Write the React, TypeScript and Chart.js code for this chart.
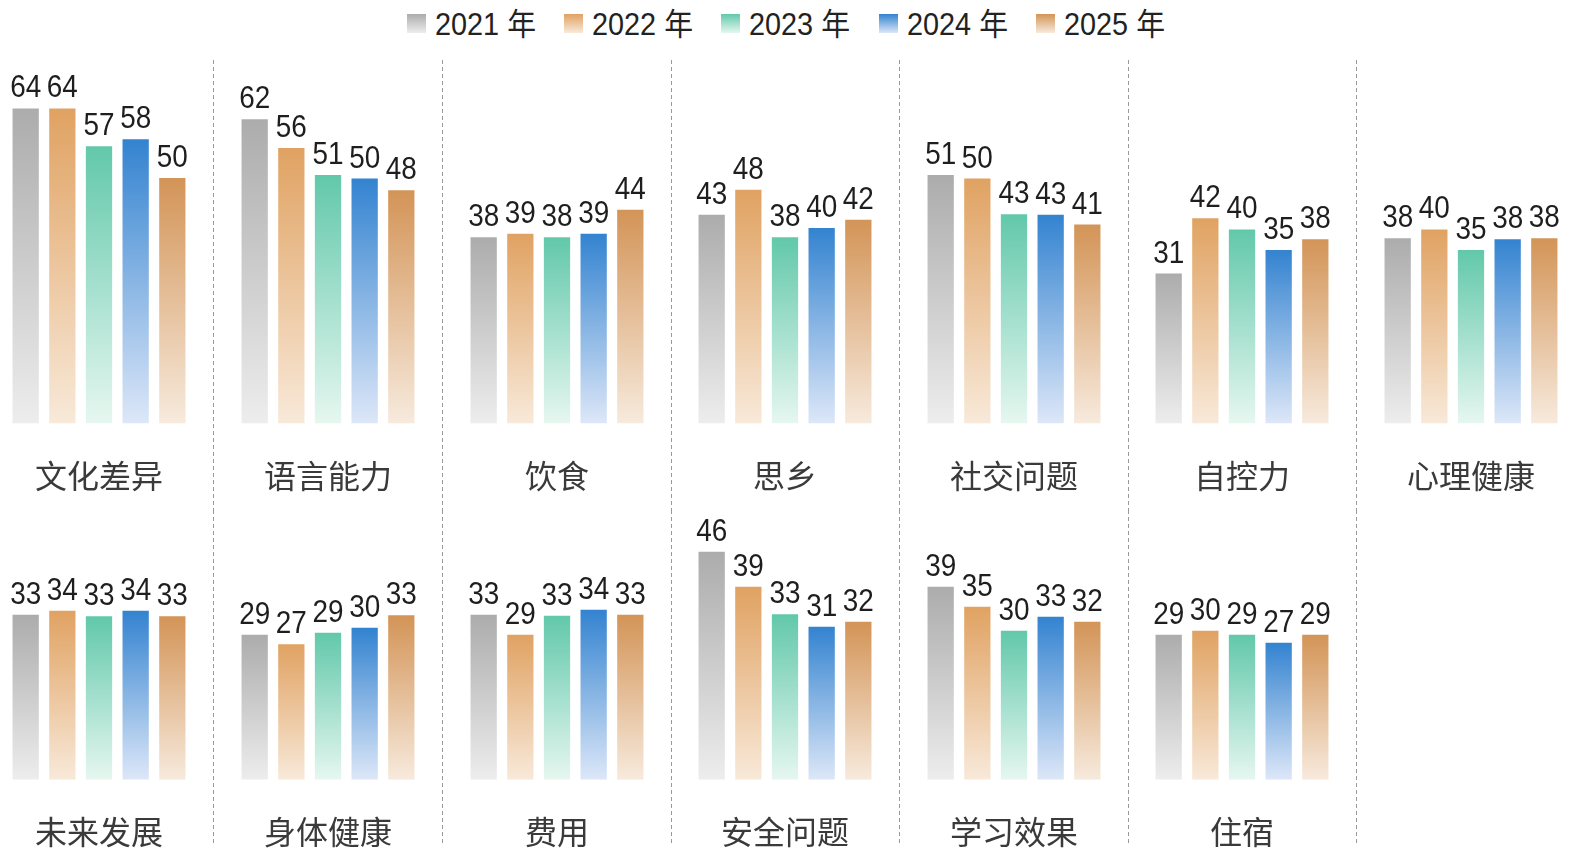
import React, { useEffect, useRef } from "react";
import { Chart, registerables } from "chart.js";

Chart.register(...registerables);

// ---------- data ----------
const years = ["2021 年", "2022 年", "2023 年", "2024 年", "2025 年"];

const row1Categories = ["文化差异", "语言能力", "饮食", "思乡", "社交问题", "自控力", "心理健康"];
const row2Categories = ["未来发展", "身体健康", "费用", "安全问题", "学习效果", "住宿"];

const culturalDifference = [64.3, 64.3, 56.6, 58.0, 50.1];
const languageAbility = [62.1, 56.2, 50.7, 50.0, 47.6];
const diet = [38.0, 38.7, 38.0, 38.7, 43.6];
const homesickness = [42.6, 47.7, 38.0, 39.9, 41.6];
const socialIssues = [50.7, 50.0, 42.7, 42.6, 40.6];
const selfControl = [30.6, 41.9, 39.6, 35.4, 37.6];
const mentalHealth = [37.8, 39.6, 35.4, 37.6, 37.8];

const futureDevelopment = [33.0, 33.8, 32.7, 33.8, 32.7];
const physicalHealth = [29.0, 27.1, 29.4, 30.4, 32.9];
const costs = [33.0, 29.0, 32.8, 34.0, 33.0];
const safetyIssues = [45.6, 38.6, 33.1, 30.6, 31.6];
const studyEffect = [38.6, 34.6, 29.8, 32.6, 31.6];
const accommodation = [29.0, 29.8, 29.0, 27.4, 29.0];

const row1Values = [culturalDifference, languageAbility, diet, homesickness, socialIssues, selfControl, mentalHealth];
const row2Values = [futureDevelopment, physicalHealth, costs, safetyIssues, studyEffect, accommodation];

// ---------- styles ----------
const topColors = ["#acacac", "#e0a262", "#62c8aa", "#3383d0", "#d39457"];
const bottomColors = ["#ededed", "#f8e9d9", "#e6f7f0", "#dde7f8", "#f7eadd"];

const NUM_FONT = '"Liberation Sans", Arial, sans-serif';
const CJK_FONT = '"Noto Sans CJK SC", "Noto Sans", sans-serif';
const LEGEND_FONT = '"Liberation Sans", Arial, "Noto Sans CJK SC", sans-serif';

type RowCfg = {
  top: number;
  height: number;
  yMax: number;
  padTop: number;
  padBottom: number;
  sepFrom: number;
  sepTo: number;
};

const ROW1: RowCfg = { top: 50, height: 460, yMax: 75, padTop: 6, padBottom: 86.5, sepFrom: 10, sepTo: 460 };
const ROW2: RowCfg = { top: 510, height: 351, yMax: 50, padTop: 19.8, padBottom: 81.2, sepFrom: 0, sepTo: 335 };

const CANVAS_W = 230;
const AREA_W = 183.3;
const FIRST_CENTER = 99.3;
const COL_PITCH = 228.6;

function Panel(props: {
  title: string;
  values: number[];
  col: number;
  row: RowCfg;
  separator: boolean;
}) {
  const ref = useRef<HTMLCanvasElement | null>(null);
  const { title, values, col, row, separator } = props;
  const center = FIRST_CENTER + COL_PITCH * col;
  const left = center - CANVAS_W / 2;

  useEffect(() => {
    if (!ref.current) return;
    const side = (CANVAS_W - AREA_W) / 2;
    const panelPlugin = {
      id: "panelDecor",
      beforeDraw(chart: any) {
        if (!separator) return;
        const c = chart.ctx;
        c.save();
        c.strokeStyle = "#9a9a9a";
        c.lineWidth = 1;
        c.setLineDash([4, 3]);
        const x = Math.floor(CANVAS_W / 2 + COL_PITCH / 2) + 0.5;
        c.beginPath();
        c.moveTo(x, row.sepFrom);
        c.lineTo(x, row.sepTo);
        c.stroke();
        c.restore();
      },
      afterDatasetsDraw(chart: any) {
        const c = chart.ctx;
        const meta = chart.getDatasetMeta(0);
        c.save();
        c.fillStyle = "#1e1e1e";
        c.font = `31px ${NUM_FONT}`;
        c.textAlign = "center";
        c.textBaseline = "alphabetic";
        meta.data.forEach((el: any, i: number) => {
          c.save();
          c.translate(el.x, el.y - 11);
          c.scale(0.9, 1);
          c.fillText(String(Math.round(values[i])), 0, 0);
          c.restore();
        });
        const area = chart.chartArea;
        c.fillStyle = "#3a3a3a";
        c.font = `32px ${CJK_FONT}`;
        c.textBaseline = "middle";
        c.fillText(title, (area.left + area.right) / 2, area.bottom + 52);
        c.restore();
      },
    };

    const chart = new Chart(ref.current, {
      type: "bar",
      data: {
        labels: years,
        datasets: [
          {
            data: values,
            borderWidth: 0,
            barPercentage: 0.717,
            categoryPercentage: 1,
            backgroundColor: (ctx: any) => {
              const i = ctx.dataIndex ?? 0;
              const ch = ctx.chart;
              if (!ch.chartArea || ctx.type !== "data") return topColors[i];
              const ys = ch.scales.y;
              const yTop = ys.getPixelForValue(ctx.raw as number);
              const yBase = ys.getPixelForValue(0);
              const g = ch.ctx.createLinearGradient(0, yTop, 0, yBase);
              g.addColorStop(0, topColors[i]);
              g.addColorStop(1, bottomColors[i]);
              return g;
            },
          },
        ],
      },
      options: {
        animation: false,
        responsive: false,
        maintainAspectRatio: false,
        events: [],
        layout: {
          padding: { left: side, right: side, top: row.padTop, bottom: row.padBottom },
        },
        scales: {
          x: { display: false },
          y: { display: false, min: 0, max: row.yMax },
        },
        plugins: {
          legend: { display: false },
          tooltip: { enabled: false },
        },
      },
      plugins: [panelPlugin],
    });
    return () => chart.destroy();
  }, []);

  return (
    <canvas
      ref={ref}
      width={CANVAS_W}
      height={row.height}
      style={{ position: "absolute", left, top: row.top, width: CANVAS_W, height: row.height }}
    />
  );
}

function Legend() {
  return (
    <>
      {years.map((y, i) => {
        const x = 407 + 157.2 * i;
        return (
          <React.Fragment key={y}>
            <div
              style={{
                position: "absolute",
                left: x,
                top: 14,
                width: 19,
                height: 19,
                background: `linear-gradient(to bottom, ${topColors[i]}, ${bottomColors[i]})`,
              }}
            />
            <div
              style={{
                position: "absolute",
                left: x + 28,
                top: 8.8,
                font: `31px ${LEGEND_FONT}`,
                lineHeight: "31px",
                color: "#222",
                whiteSpace: "nowrap",
                transform: "scaleX(0.93)",
                transformOrigin: "left center",
              }}
            >
              {y}
            </div>
          </React.Fragment>
        );
      })}
    </>
  );
}

export default function App() {
  return (
    <div
      style={{
        position: "absolute",
        left: 0,
        top: 0,
        width: 1570,
        height: 861,
        overflow: "hidden",
        background: "#fff",
      }}
    >
      <Legend />
      {row1Categories.map((t, i) => (
        <Panel key={t} title={t} values={row1Values[i]} col={i} row={ROW1} separator={i < 6} />
      ))}
      {row2Categories.map((t, i) => (
        <Panel key={t} title={t} values={row2Values[i]} col={i} row={ROW2} separator={i < 6} />
      ))}
    </div>
  );
}
